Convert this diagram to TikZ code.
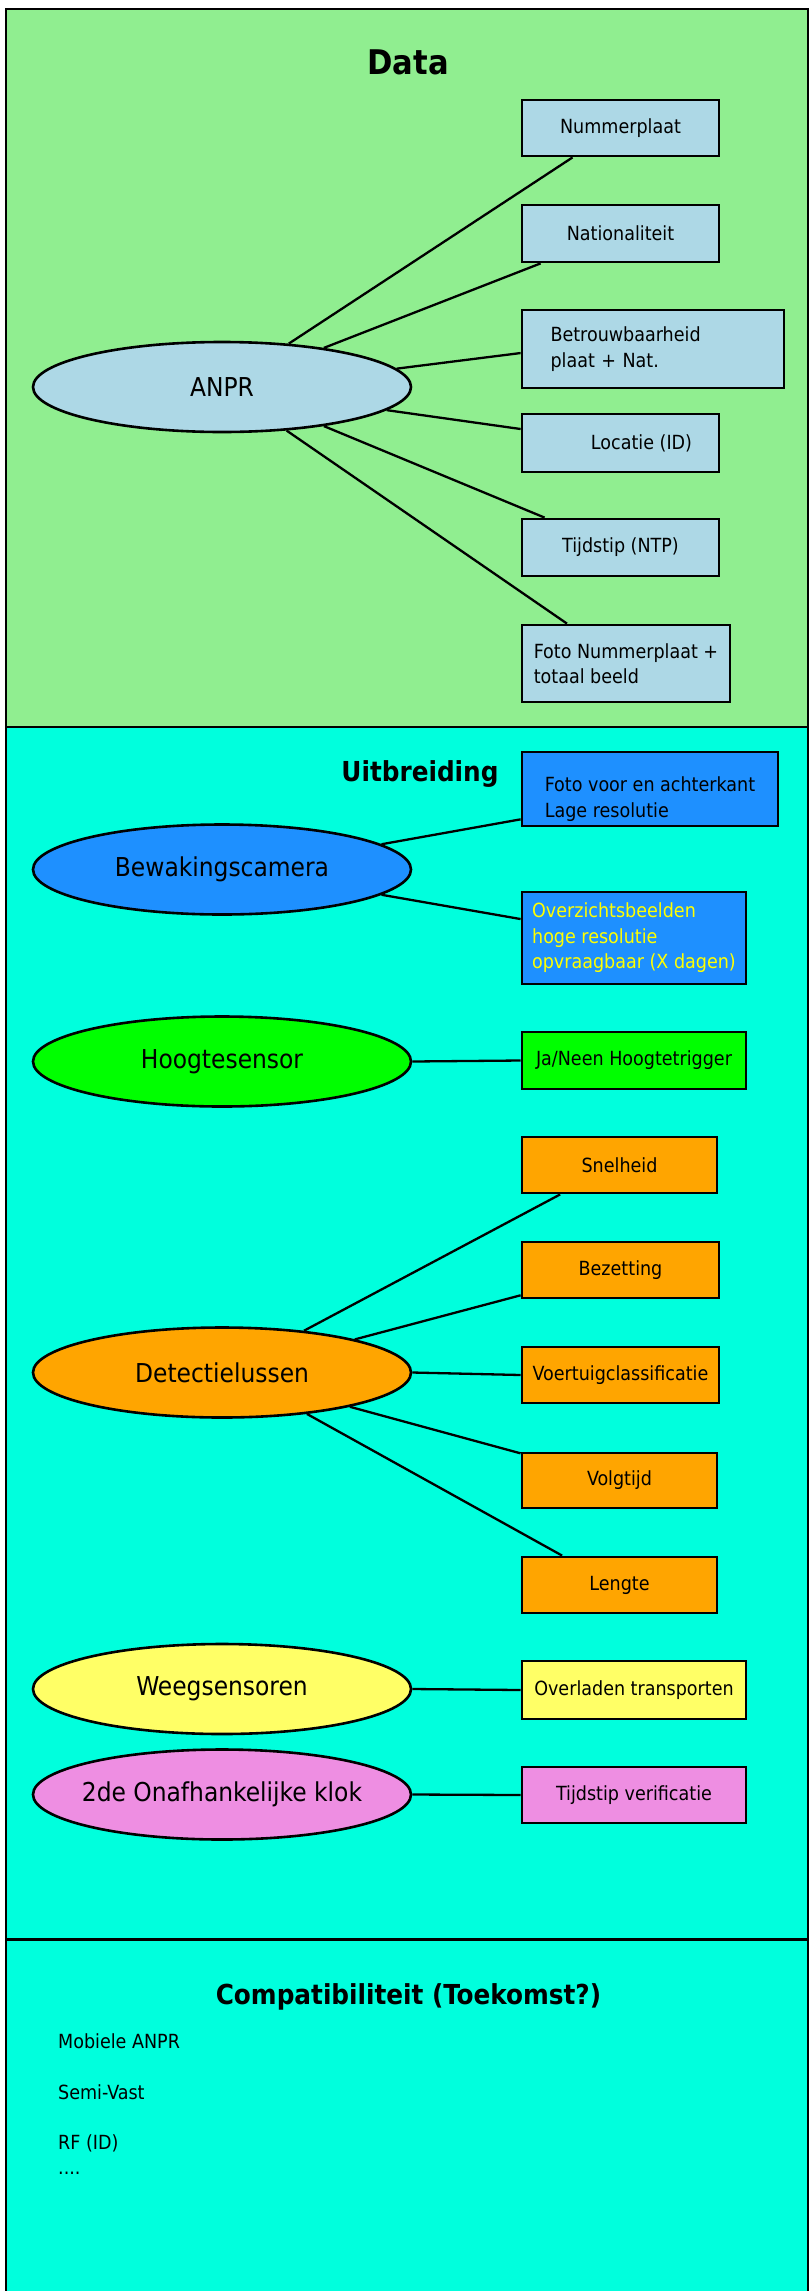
\documentclass[tikz,border=0pt]{standalone}
\usepackage{fontspec}
\setmainfont{DejaVu Sans Condensed}
\usetikzlibrary{calc,shapes.geometric}
\definecolor{datagreen}{RGB}{144,238,144}
\definecolor{aquabg}{RGB}{0,255,221}
\definecolor{lblue}{RGB}{173,216,230}
\definecolor{dblue}{RGB}{30,144,255}
\definecolor{lgreen}{RGB}{0,255,0}
\definecolor{orng}{RGB}{255,165,0}
\definecolor{lyellow}{RGB}{255,255,102}
\definecolor{viol}{RGB}{238,142,226}
\definecolor{ytext}{RGB}{255,255,0}
\newcommand{\elltext}[1]{\makebox[0pt]{#1}}
\begin{document}
\begin{tikzpicture}[x=1pt,y=-1pt,
  frame/.style={line width=2.5pt},
  ell/.style={ellipse, draw, line width=2.6pt, minimum width=378pt, minimum height=90pt, inner sep=0pt, font=\fontsize{26}{30}\selectfont},
  box/.style={draw, line width=2.8pt, inner sep=0pt, font=\fontsize{19.5}{25.5}\selectfont},
  conn/.style={line width=2.3pt},
  title/.style={font=\bfseries\fontsize{27.5}{32}\selectfont, anchor=base, inner sep=0pt},
  item/.style={font=\fontsize{19.5}{24}\selectfont, anchor=base west, inner sep=0pt}]
\useasboundingbox (0,0) rectangle (810,2291);
\fill[datagreen] (6,9) rectangle (808,727);
\fill[aquabg] (6,727) rectangle (808,2300);
\draw[frame] (6,2300) -- (6,9) -- (808,9) -- (808,2300);
\draw[frame] (6,727) -- (808,727);
\draw[frame] (6,1939.5) -- (808,1939.5);

% titles
\node[title, font=\bfseries\fontsize{34}{40}\selectfont] (tdata) at (408,74.5) {Data};
\node[title] (tuit) at (420,781) {Uitbreiding};
\node[title] (tcomp) at (408.5,2004) {Compatibiliteit (Toekomst?)};

% Data section
\node[ell, fill=lblue] (anpr) at (222,387) {\elltext{ANPR}};
\node[box, fill=lblue, minimum width=197pt, minimum height=56pt] (num) at (620.5,128) {Nummerplaat};
\node[box, fill=lblue, minimum width=197pt, minimum height=57pt] (nat) at (620.5,233.5) {Nationaliteit};
\node[box, fill=lblue, minimum width=262pt, minimum height=78pt, text width=205pt, align=left] (betr) at (653,349) {Betrouwbaarheid\\plaat + Nat.};
\node[box, fill=lblue, minimum width=197pt, minimum height=58pt] (loc) at (620.5,443) {\hspace*{42pt}Locatie (ID)};
\node[box, fill=lblue, minimum width=197pt, minimum height=57pt] (tijd) at (620.5,547.5) {Tijdstip (NTP)};
\node[box, fill=lblue, minimum width=208pt, minimum height=77pt, align=left] (foto) at (626,663.5) {Foto Nummerplaat +\\totaal beeld};

\draw[conn] (anpr.33.9) -- ($(num.south west)!0.26!(num.south east)$);
\draw[conn] (anpr.21.4) -- ($(nat.south west)!0.10!(nat.south east)$);
\draw[conn] (anpr.6.9) -- ($(betr.north west)!0.55!(betr.south west)$);
\draw[conn] (anpr.-8.3) -- ($(loc.north west)!0.27!(loc.south west)$);
\draw[conn] (anpr.-21.5) -- ($(tijd.north west)!0.12!(tijd.north east)$);
\draw[conn] (anpr.-34.1) -- ($(foto.north west)!0.22!(foto.north east)$);

% Uitbreiding section
\node[ell, fill=dblue] (bewak) at (222,869.5) {\elltext{Bewakingscamera}};
\node[box, fill=dblue, minimum width=256pt, minimum height=74pt, align=left] (fotovoor) at (650,789) {\rule{0pt}{35pt}Foto voor en achterkant\\Lage resolutie};
\node[box, fill=dblue, text=ytext, minimum width=224pt, minimum height=92pt, align=left] (overz) at (634,938) {Overzichtsbeelden\\hoge resolutie\\opvraagbaar (X dagen)};
\draw[conn] (bewak.9.5) -- ($(fotovoor.north west)!0.895!(fotovoor.south west)$);
\draw[conn] (bewak.-9.5) -- ($(overz.north west)!0.30!(overz.south west)$);

\node[ell, fill=lgreen] (hoogte) at (222,1061.5) {\elltext{Hoogtesensor}};
\node[box, fill=lgreen, minimum width=224pt, minimum height=57pt] (janeen) at (634,1060.5) {Ja/Neen Hoogtetrigger};
\draw[conn] (hoogte.east) -- (janeen.west);

\node[ell, fill=orng] (detect) at (222,1372.5) {\elltext{Detectielussen}};
\node[box, fill=orng, minimum width=195pt, minimum height=56pt] (snel) at (619.5,1165) {Snelheid};
\node[box, fill=orng, minimum width=197pt, minimum height=56pt] (bez) at (620.5,1270) {Bezetting};
\node[box, fill=orng, minimum width=197pt, minimum height=56pt] (voert) at (620.5,1375) {Voertuigclassificatie};
\node[box, fill=orng, minimum width=195pt, minimum height=55pt] (volg) at (619.5,1480.5) {Volgtijd};
\node[box, fill=orng, minimum width=195pt, minimum height=56pt] (lengte) at (619.5,1585) {Lengte};
\draw[conn] (detect.27.4) -- ($(snel.south west)!0.20!(snel.south east)$);
\draw[conn] (detect.14.75) -- ($(bez.north west)!0.93!(bez.south west)$);
\draw[conn] (detect.east) -- (voert.west);
\draw[conn] (detect.-15) -- ($(volg.north west)!0.03!(volg.south west)$);
\draw[conn] (detect.-26.8) -- ($(lengte.north west)!0.21!(lengte.north east)$);

\node[ell, fill=lyellow] (weeg) at (222,1689) {\elltext{Weegsensoren}};
\node[box, fill=lyellow, minimum width=224pt, minimum height=58pt] (overl) at (634,1690) {Overladen transporten};
\draw[conn] (weeg.east) -- (overl.west);

\node[ell, fill=viol] (klok) at (222,1794.5) {\elltext{2de Onafhankelijke klok}};
\node[box, fill=viol, minimum width=224pt, minimum height=56pt] (tijdver) at (634,1795) {Tijdstip verificatie};
\draw[conn] (klok.east) -- (tijdver.west);

% Compatibiliteit
\node[item] (i1) at (58,2048) {Mobiele ANPR};
\node[item] (i2) at (58,2099) {Semi-Vast};
\node[item] (i3) at (58,2149) {RF (ID)};
\node[item] (i4) at (58,2174) {....};
\end{tikzpicture}
\end{document}
